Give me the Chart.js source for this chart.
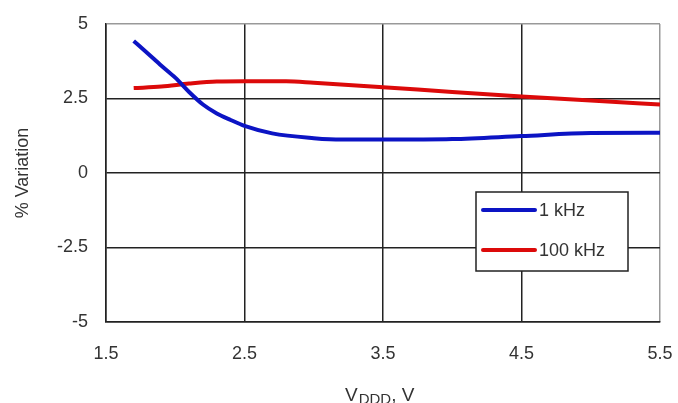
<!DOCTYPE html>
<html>
<head>
<meta charset="utf-8">
<script src="https://cdn.jsdelivr.net/npm/chart.js@4/dist/chart.umd.min.js"></script>
<style>
    html, body {margin: 0; padding: 0; background: #fff;}
    #wrap {width: 678px; height: 403px;}
</style>
</head>
<body>
<div id="wrap"><canvas id="chart" width="678" height="403"></canvas></div>
<script>
// values
const voltsLow = [1.7, 1.8, 1.9, 2.0, 2.1, 2.2, 2.3, 2.4, 2.5, 2.7, 3.0, 3.2, 3.5, 4.0, 4.5, 5.0, 5.5];
const kHz1 = [4.43, 4.02, 3.6, 3.2, 2.72, 2.3, 2.0, 1.78, 1.58, 1.33, 1.17, 1.12, 1.12, 1.14, 1.24, 1.34, 1.35];
const voltsHigh = [1.7, 1.9, 2.1, 2.3, 2.5, 2.8, 3.0, 3.5, 4.0, 4.5, 5.0, 5.5];
const kHz100 = [2.85, 2.9, 3.0, 3.07, 3.08, 3.08, 3.03, 2.88, 2.72, 2.57, 2.43, 2.3];
const seriesNames = ["1 kHz", "100 kHz"];
const xTicks = [1.5, 2.5, 3.5, 4.5, 5.5];
const yTicks = [-5, -2.5, 0, 2.5, 5];

const FONT = "'Liberation Sans', Arial, sans-serif";
const BLUE = "#0c14c4";
const RED = "#dc0a0a";

function pairs(xs, ys) {
    return xs.map((x, i) => ({x: x, y: ys[i]}));
}

// legend box and x axis title, drawn by hand
const extras = {
    id: "extras",
    afterDraw(chart) {
        const ctx = chart.ctx;
        ctx.save();
        // legend
        ctx.fillStyle = "#fff";
        ctx.fillRect(476, 192, 152, 79);
        ctx.strokeStyle = "#222";
        ctx.lineWidth = 1.5;
        ctx.strokeRect(476, 192, 152, 79);
        const colors = [BLUE, RED];
        const rows = [210, 250];
        ctx.lineCap = "round";
        ctx.font = "18px " + FONT;
        ctx.textBaseline = "middle";
        seriesNames.forEach((name, i) => {
            ctx.strokeStyle = colors[i];
            ctx.lineWidth = 4;
            ctx.beginPath();
            ctx.moveTo(483, rows[i]);
            ctx.lineTo(535, rows[i]);
            ctx.stroke();
            ctx.fillStyle = "#333";
            ctx.fillText(name, 539, rows[i] + 1);
        });
        // x title: V with DDD subscript
        ctx.textBaseline = "alphabetic";
        ctx.fillStyle = "#333";
        let x = 345;
        ctx.font = "19px " + FONT;
        ctx.fillText("V", x, 401);
        x += ctx.measureText("V").width + 1;
        ctx.font = "15px " + FONT;
        ctx.fillText("DDD", x, 404);
        x += ctx.measureText("DDD").width;
        ctx.font = "19px " + FONT;
        ctx.fillText(", V", x, 401);
        ctx.restore();
    },
};

new Chart(document.getElementById("chart"), {
    type: "line",
    data: {
        datasets: [
            {
                label: seriesNames[0],
                data: pairs(voltsLow, kHz1),
                borderColor: BLUE,
                borderWidth: 4,
                pointRadius: 0,
                tension: 0.4,
                cubicInterpolationMode: "monotone",
            },
            {
                label: seriesNames[1],
                data: pairs(voltsHigh, kHz100),
                borderColor: RED,
                borderWidth: 4,
                pointRadius: 0,
                tension: 0.4,
                cubicInterpolationMode: "monotone",
            },
        ],
    },
    options: {
        responsive: false,
        animation: false,
        layout: {padding: {left: 0, top: 24, right: 18, bottom: 0}},
        plugins: {legend: {display: false}, tooltip: {enabled: false}},
        scales: {
            x: {
                type: "linear",
                min: 1.5,
                max: 5.5,
                afterBuildTicks: (scale) => {
                    scale.ticks = xTicks.map((v) => ({value: v}));
                },
                afterFit: (scale) => {
                    scale.height = 81;
                    scale.paddingLeft = 0;
                    scale.paddingRight = 0;
                },
                ticks: {
                    color: "#333",
                    font: {family: FONT, size: 18},
                    padding: 21,
                    maxRotation: 0,
                    callback: (v) => v.toFixed(1),
                },
                grid: {
                    color: (c) => (c.tick && c.tick.value === 5.5 ? "#999" : "#222"),
                    lineWidth: 1.5,
                    drawTicks: false,
                },
                border: {color: "#222", width: 1.5},
            },
            y: {
                min: -5,
                max: 5,
                afterBuildTicks: (scale) => {
                    scale.ticks = yTicks.map((v) => ({value: v}));
                },
                afterFit: (scale) => {
                    scale.width = 106;
                    scale.paddingTop = 0;
                    scale.paddingBottom = 0;
                },
                ticks: {
                    color: "#333",
                    font: {family: FONT, size: 18},
                    padding: 18,
                    callback: (v) => String(v),
                },
                title: {
                    display: true,
                    text: "% Variation",
                    color: "#333",
                    font: {family: FONT, size: 18},
                    padding: {top: 12, bottom: 0},
                },
                grid: {
                    color: (c) => (c.tick && c.tick.value === 5 ? "#999" : "#222"),
                    lineWidth: 1.5,
                    drawTicks: false,
                },
                border: {color: "#222", width: 1.5},
            },
        },
    },
    plugins: [extras],
});
</script>
</body>
</html>
